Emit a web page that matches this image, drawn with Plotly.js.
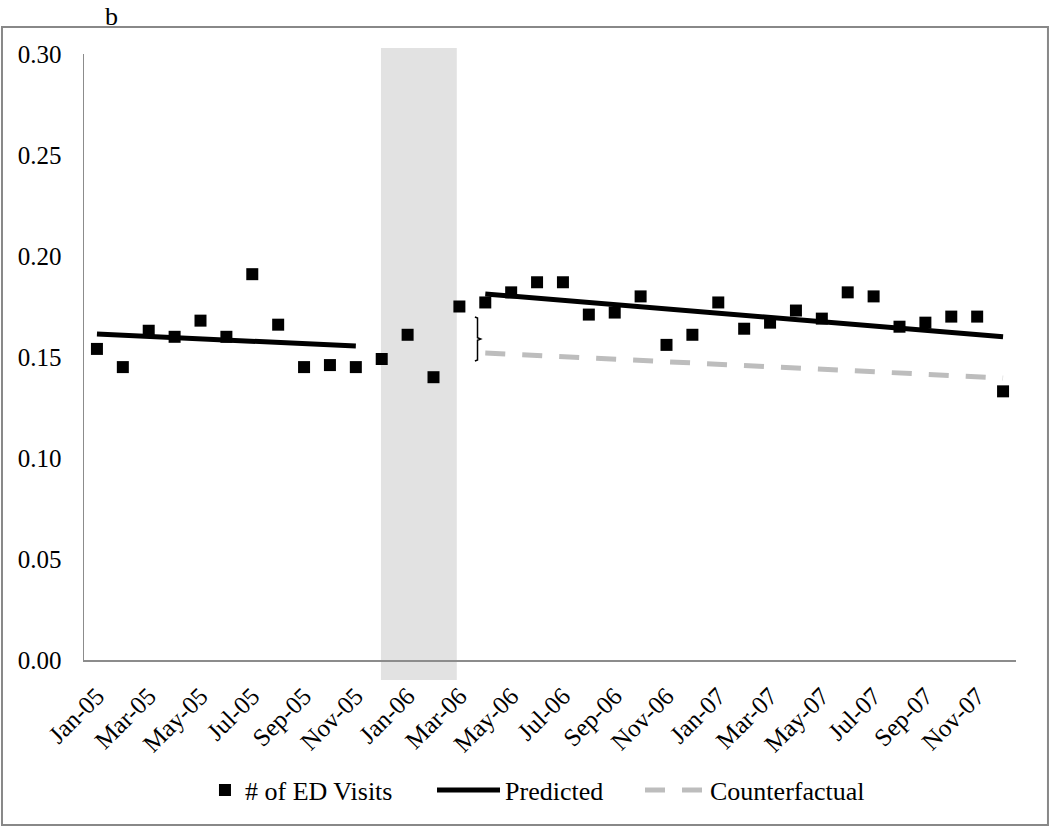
<!DOCTYPE html>
<html>
<head>
<meta charset="utf-8">
<script src="https://cdn.plot.ly/plotly-3.0.1.min.js"></script>
<style>html,body{margin:0;padding:0;background:#fff;}#chart{width:1050px;height:827px;}</style>
</head>
<body>
<div id="chart"></div>
<script>
// Months (categories)
const months = ['Jan-05','Feb-05','Mar-05','Apr-05','May-05','Jun-05','Jul-05','Aug-05','Sep-05','Oct-05','Nov-05','Dec-05',
  'Jan-06','Feb-06','Mar-06','Apr-06','May-06','Jun-06','Jul-06','Aug-06','Sep-06','Oct-06','Nov-06','Dec-06',
  'Jan-07','Feb-07','Mar-07','Apr-07','May-07','Jun-07','Jul-07','Aug-07','Sep-07','Oct-07','Nov-07','Dec-07'];
// Observed rate of ED visits
const edVisits = [0.154,0.145,0.163,0.160,0.168,0.160,0.191,0.166,0.145,0.146,0.145,0.149,
  0.161,0.140,0.175,0.177,0.182,0.187,0.187,0.171,0.172,0.180,0.156,0.161,
  0.177,0.164,0.167,0.173,0.169,0.182,0.180,0.165,0.167,0.170,0.170,0.133];
// Predicted segments (endpoints)
const predictedX = ['Jan-05','Nov-05','Dec-05','Apr-06','Dec-07'];
const predictedY = [0.1614,0.1554,null,0.1812,0.1600];
// Counterfactual
const counterX = ['Apr-06','Dec-07'];
const counterY = [0.1520,0.1396];
// Tick labels
const xTicks = ['Jan-05','Mar-05','May-05','Jul-05','Sep-05','Nov-05','Jan-06','Mar-06','May-06','Jul-06','Sep-06','Nov-06',
  'Jan-07','Mar-07','May-07','Jul-07','Sep-07','Nov-07'];
const yTicks = [0,0.05,0.10,0.15,0.20,0.25,0.30];
const yTickText = ['0.00','0.05','0.10','0.15','0.20','0.25','0.30'];

const serif = 'Liberation Serif, Times New Roman, serif';

const traces = [
  {x: months, y: edVisits, type: 'scatter', mode: 'markers', name: '# of ED Visits', legend: 'legend',
   marker: {symbol: 'square', size: 12, color: '#000'}},
  {x: predictedX, y: predictedY, type: 'scatter', mode: 'lines', name: 'Predicted', legend: 'legend2',
   line: {color: '#000', width: 5}, connectgaps: false},
  {x: counterX, y: counterY, type: 'scatter', mode: 'lines', name: 'Counterfactual', legend: 'legend3',
   line: {color: '#bdbdbd', width: 5, dash: '20px,17px'}}
];

const legFont = {family: serif, size: 26, color: '#000'};
const legY = -0.2145;

const layout = {
  width: 1050, height: 827,
  margin: {l: 84, r: 34, t: 54, b: 167},
  paper_bgcolor: '#fff', plot_bgcolor: '#fff',
  font: {family: serif, size: 24, color: '#000'},
  showlegend: true,
  legend: {orientation: 'h', x: 0.1298, xanchor: 'left', y: legY, yanchor: 'middle',
    font: legFont, bgcolor: 'rgba(0,0,0,0)'},
  legend2: {orientation: 'h', x: 0.3734, xanchor: 'left', y: legY, yanchor: 'middle', itemwidth: 63,
    font: legFont, bgcolor: 'rgba(0,0,0,0)'},
  legend3: {orientation: 'h', x: 0.5966, xanchor: 'left', y: legY, yanchor: 'middle', itemwidth: 60,
    font: legFont, bgcolor: 'rgba(0,0,0,0)'},
  xaxis: {type: 'category', categoryorder: 'array', categoryarray: months,
    range: [-0.5, 35.5], tickmode: 'array', tickvals: xTicks, ticktext: xTicks,
    tickangle: -45, ticks: '', showgrid: false, zeroline: false,
    showline: true, linecolor: '#8c8c8c', linewidth: 1.5,
    tickfont: {family: serif, size: 25, color: '#000'}, ticklabelstandoff: 10},
  yaxis: {range: [0, 0.30], tickmode: 'array', tickvals: yTicks, ticktext: yTickText,
    ticks: '', showgrid: false, zeroline: false,
    showline: true, linecolor: '#8c8c8c', linewidth: 1.5,
    tickfont: {family: serif, size: 25, color: '#000'}, ticklabelstandoff: 16},
  shapes: [
    {type: 'rect', layer: 'below', xref: 'x', yref: 'paper', x0: 10.97, x1: 13.9, y0: -0.033, y1: 1.0099,
     fillcolor: '#e2e2e2', line: {width: 0}},
    {type: 'rect', xref: 'paper', yref: 'paper', x0: -0.088, x1: 1.0343, y0: -0.2723, y1: 1.0446,
     line: {color: '#888', width: 2}, fillcolor: 'rgba(0,0,0,0)'},
    {type: 'path', xref: 'x', yref: 'y',
     path: 'M 14.6,0.1698 L 14.7,0.1693 L 14.7,0.1595 L 14.82,0.1589 L 14.7,0.1583 L 14.7,0.1485 L 14.6,0.1480',
     line: {color: '#000', width: 1.5}}
  ],
  annotations: [
    {text: 'b', xref: 'paper', yref: 'paper', x: 0.030, y: 1.0891, xanchor: 'center', yanchor: 'top',
     showarrow: false, font: {family: serif, size: 26, color: '#000'}}
  ]
};

Plotly.newPlot('chart', traces, layout, {displayModeBar: false, staticPlot: true});
</script>
</body>
</html>
